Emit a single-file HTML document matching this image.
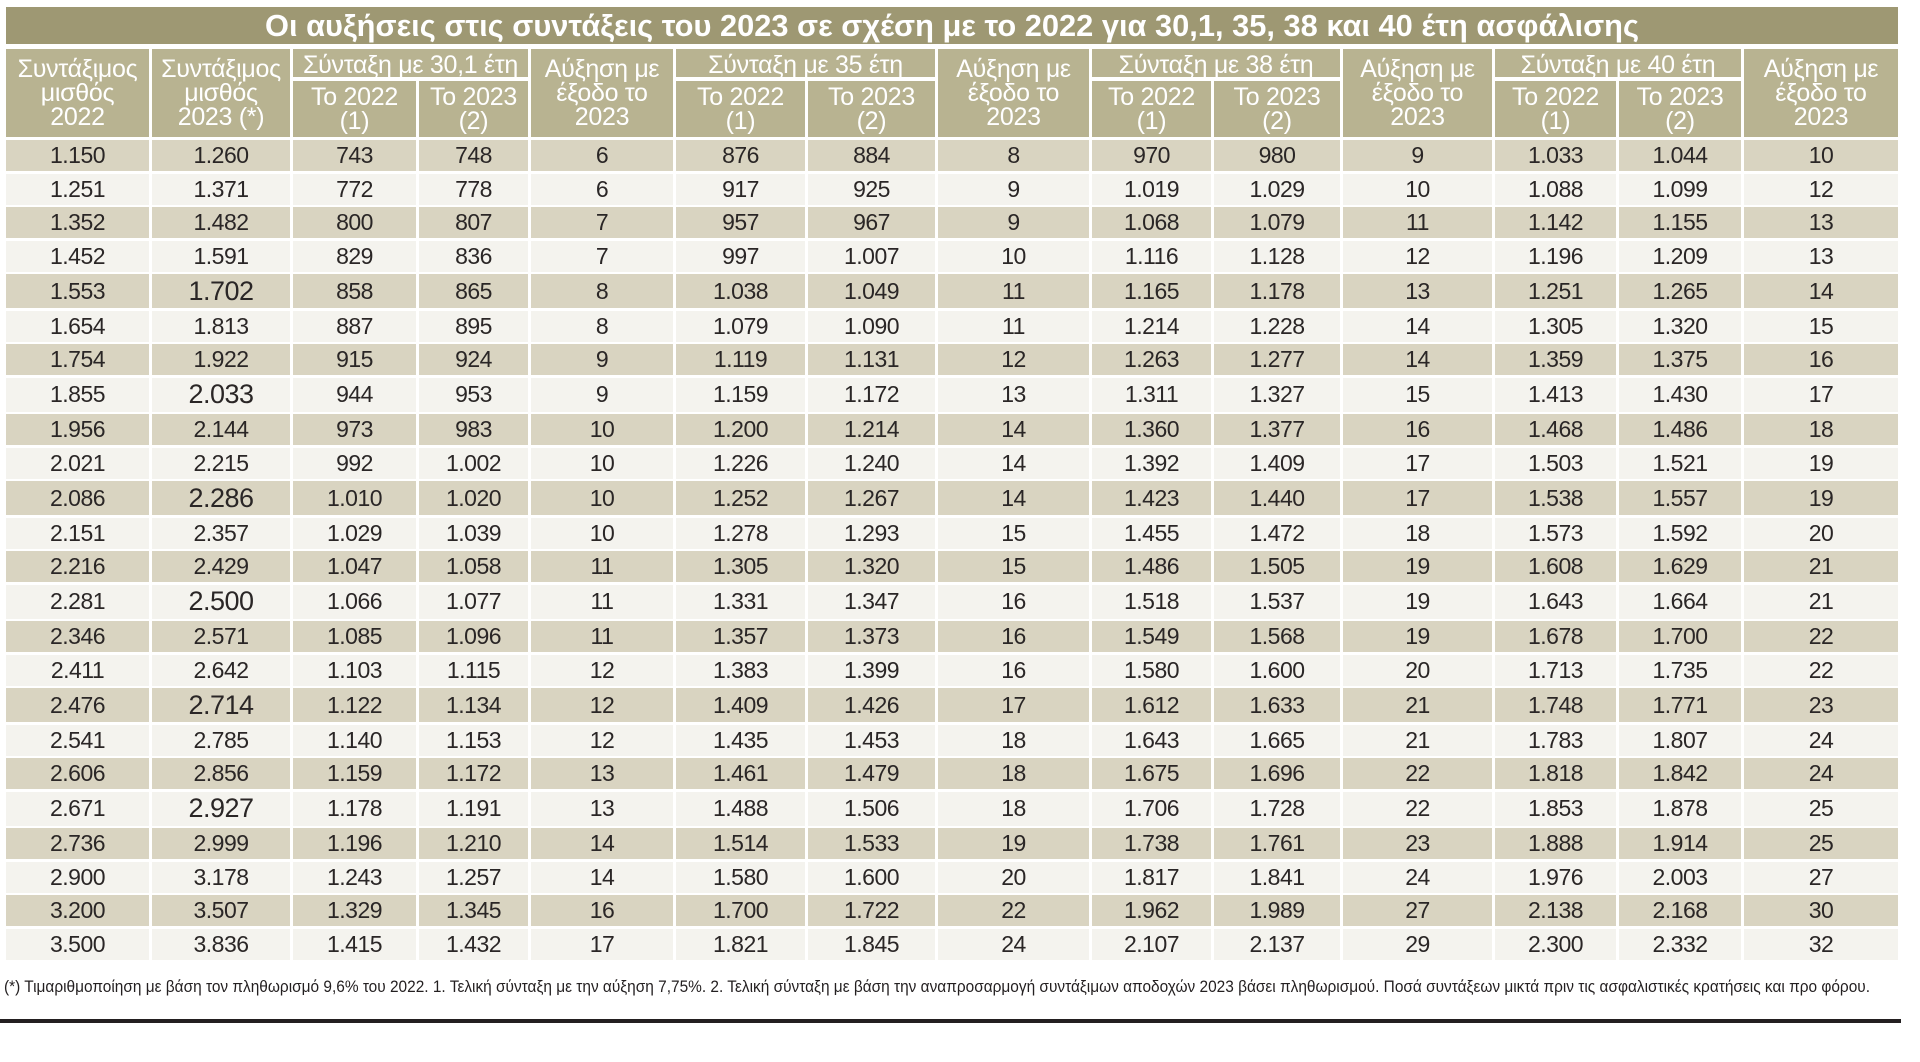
<!DOCTYPE html>
<html>
<head>
<meta charset="utf-8">
<style>
  html,body{margin:0;padding:0;background:#ffffff;}
  body{width:1920px;height:1062px;position:relative;overflow:hidden;font-family:"Liberation Sans","DejaVu Sans",sans-serif;}
  .title{position:absolute;left:6px;top:7px;width:1892px;height:37px;background:#9e9873;}
  .title svg{position:absolute;left:0;top:0;}
  .hdr{position:absolute;left:6px;top:49px;display:grid;
       grid-template-columns:143px 138px 123px 109px 142px 129px 127px 151px 119px 126px 149px 121px 122px 154px;
       grid-template-rows:28px 56px;column-gap:3px;row-gap:4px;}
  .hdr>div{background:#b8b391;color:#ffffff;font-size:25px;line-height:24px;display:flex;align-items:center;justify-content:center;text-align:center;letter-spacing:-0.3px;}
  .hdr>.s2{grid-row:span 2;}
  .hdr>.g{grid-column:span 2;padding-top:3px;box-sizing:border-box;}
  .body{position:absolute;left:6px;top:140px;}
  .r{display:grid;grid-template-columns:143px 138px 123px 109px 142px 129px 127px 151px 119px 126px 149px 121px 122px 154px;
     column-gap:3px;height:31px;margin-bottom:2.5px;}
  .r.b{height:34px;}
  .r>div{display:flex;align-items:center;justify-content:center;font-size:23px;color:#2a2626;letter-spacing:-0.5px;background:#f4f3ee;}
  .r.o>div{background:#d9d4c1;}
  .r.b>div:nth-child(2){font-size:27px;}
  .foot{position:absolute;left:0;top:970px;}
  .line{position:absolute;left:0;top:1019px;width:1901px;height:4px;background:#231f20;}
</style>
</head>
<body>
<div class="title">
  <svg width="1892" height="37" viewBox="0 0 1892 37">
    <text x="259" y="29" font-family="Liberation Sans, DejaVu Sans, sans-serif" font-weight="bold" font-size="31" fill="#ffffff" textLength="1374" lengthAdjust="spacingAndGlyphs">Οι αυξήσεις στις συντάξεις του 2023 σε σχέση με το 2022 για 30,1, 35, 38 και 40 έτη ασφάλισης</text>
  </svg>
</div>

<div class="hdr">
  <div class="s2">Συντάξιμος<br>μισθός<br>2022</div>
  <div class="s2">Συντάξιμος<br>μισθός<br>2023 (*)</div>
  <div class="g">Σύνταξη με 30,1 έτη</div>
  <div class="s2">Αύξηση με<br>έξοδο το<br>2023</div>
  <div class="g">Σύνταξη με 35 έτη</div>
  <div class="s2">Αύξηση με<br>έξοδο το<br>2023</div>
  <div class="g">Σύνταξη με 38 έτη</div>
  <div class="s2">Αύξηση με<br>έξοδο το<br>2023</div>
  <div class="g">Σύνταξη με 40 έτη</div>
  <div class="s2">Αύξηση με<br>έξοδο το<br>2023</div>
  <div>Το 2022<br>(1)</div>
  <div>Το 2023<br>(2)</div>
  <div>Το 2022<br>(1)</div>
  <div>Το 2023<br>(2)</div>
  <div>Το 2022<br>(1)</div>
  <div>Το 2023<br>(2)</div>
  <div>Το 2022<br>(1)</div>
  <div>Το 2023<br>(2)</div>
</div>

<div class="body">
<div class="r o"><div>1.150</div><div>1.260</div><div>743</div><div>748</div><div>6</div><div>876</div><div>884</div><div>8</div><div>970</div><div>980</div><div>9</div><div>1.033</div><div>1.044</div><div>10</div></div>
<div class="r"><div>1.251</div><div>1.371</div><div>772</div><div>778</div><div>6</div><div>917</div><div>925</div><div>9</div><div>1.019</div><div>1.029</div><div>10</div><div>1.088</div><div>1.099</div><div>12</div></div>
<div class="r o"><div>1.352</div><div>1.482</div><div>800</div><div>807</div><div>7</div><div>957</div><div>967</div><div>9</div><div>1.068</div><div>1.079</div><div>11</div><div>1.142</div><div>1.155</div><div>13</div></div>
<div class="r"><div>1.452</div><div>1.591</div><div>829</div><div>836</div><div>7</div><div>997</div><div>1.007</div><div>10</div><div>1.116</div><div>1.128</div><div>12</div><div>1.196</div><div>1.209</div><div>13</div></div>
<div class="r o b"><div>1.553</div><div>1.702</div><div>858</div><div>865</div><div>8</div><div>1.038</div><div>1.049</div><div>11</div><div>1.165</div><div>1.178</div><div>13</div><div>1.251</div><div>1.265</div><div>14</div></div>
<div class="r"><div>1.654</div><div>1.813</div><div>887</div><div>895</div><div>8</div><div>1.079</div><div>1.090</div><div>11</div><div>1.214</div><div>1.228</div><div>14</div><div>1.305</div><div>1.320</div><div>15</div></div>
<div class="r o"><div>1.754</div><div>1.922</div><div>915</div><div>924</div><div>9</div><div>1.119</div><div>1.131</div><div>12</div><div>1.263</div><div>1.277</div><div>14</div><div>1.359</div><div>1.375</div><div>16</div></div>
<div class="r b"><div>1.855</div><div>2.033</div><div>944</div><div>953</div><div>9</div><div>1.159</div><div>1.172</div><div>13</div><div>1.311</div><div>1.327</div><div>15</div><div>1.413</div><div>1.430</div><div>17</div></div>
<div class="r o"><div>1.956</div><div>2.144</div><div>973</div><div>983</div><div>10</div><div>1.200</div><div>1.214</div><div>14</div><div>1.360</div><div>1.377</div><div>16</div><div>1.468</div><div>1.486</div><div>18</div></div>
<div class="r"><div>2.021</div><div>2.215</div><div>992</div><div>1.002</div><div>10</div><div>1.226</div><div>1.240</div><div>14</div><div>1.392</div><div>1.409</div><div>17</div><div>1.503</div><div>1.521</div><div>19</div></div>
<div class="r o b"><div>2.086</div><div>2.286</div><div>1.010</div><div>1.020</div><div>10</div><div>1.252</div><div>1.267</div><div>14</div><div>1.423</div><div>1.440</div><div>17</div><div>1.538</div><div>1.557</div><div>19</div></div>
<div class="r"><div>2.151</div><div>2.357</div><div>1.029</div><div>1.039</div><div>10</div><div>1.278</div><div>1.293</div><div>15</div><div>1.455</div><div>1.472</div><div>18</div><div>1.573</div><div>1.592</div><div>20</div></div>
<div class="r o"><div>2.216</div><div>2.429</div><div>1.047</div><div>1.058</div><div>11</div><div>1.305</div><div>1.320</div><div>15</div><div>1.486</div><div>1.505</div><div>19</div><div>1.608</div><div>1.629</div><div>21</div></div>
<div class="r b"><div>2.281</div><div>2.500</div><div>1.066</div><div>1.077</div><div>11</div><div>1.331</div><div>1.347</div><div>16</div><div>1.518</div><div>1.537</div><div>19</div><div>1.643</div><div>1.664</div><div>21</div></div>
<div class="r o"><div>2.346</div><div>2.571</div><div>1.085</div><div>1.096</div><div>11</div><div>1.357</div><div>1.373</div><div>16</div><div>1.549</div><div>1.568</div><div>19</div><div>1.678</div><div>1.700</div><div>22</div></div>
<div class="r"><div>2.411</div><div>2.642</div><div>1.103</div><div>1.115</div><div>12</div><div>1.383</div><div>1.399</div><div>16</div><div>1.580</div><div>1.600</div><div>20</div><div>1.713</div><div>1.735</div><div>22</div></div>
<div class="r o b"><div>2.476</div><div>2.714</div><div>1.122</div><div>1.134</div><div>12</div><div>1.409</div><div>1.426</div><div>17</div><div>1.612</div><div>1.633</div><div>21</div><div>1.748</div><div>1.771</div><div>23</div></div>
<div class="r"><div>2.541</div><div>2.785</div><div>1.140</div><div>1.153</div><div>12</div><div>1.435</div><div>1.453</div><div>18</div><div>1.643</div><div>1.665</div><div>21</div><div>1.783</div><div>1.807</div><div>24</div></div>
<div class="r o"><div>2.606</div><div>2.856</div><div>1.159</div><div>1.172</div><div>13</div><div>1.461</div><div>1.479</div><div>18</div><div>1.675</div><div>1.696</div><div>22</div><div>1.818</div><div>1.842</div><div>24</div></div>
<div class="r b"><div>2.671</div><div>2.927</div><div>1.178</div><div>1.191</div><div>13</div><div>1.488</div><div>1.506</div><div>18</div><div>1.706</div><div>1.728</div><div>22</div><div>1.853</div><div>1.878</div><div>25</div></div>
<div class="r o"><div>2.736</div><div>2.999</div><div>1.196</div><div>1.210</div><div>14</div><div>1.514</div><div>1.533</div><div>19</div><div>1.738</div><div>1.761</div><div>23</div><div>1.888</div><div>1.914</div><div>25</div></div>
<div class="r"><div>2.900</div><div>3.178</div><div>1.243</div><div>1.257</div><div>14</div><div>1.580</div><div>1.600</div><div>20</div><div>1.817</div><div>1.841</div><div>24</div><div>1.976</div><div>2.003</div><div>27</div></div>
<div class="r o"><div>3.200</div><div>3.507</div><div>1.329</div><div>1.345</div><div>16</div><div>1.700</div><div>1.722</div><div>22</div><div>1.962</div><div>1.989</div><div>27</div><div>2.138</div><div>2.168</div><div>30</div></div>
<div class="r"><div>3.500</div><div>3.836</div><div>1.415</div><div>1.432</div><div>17</div><div>1.821</div><div>1.845</div><div>24</div><div>2.107</div><div>2.137</div><div>29</div><div>2.300</div><div>2.332</div><div>32</div></div>
</div>

<svg class="foot" width="1920" height="40" viewBox="0 0 1920 40">
  <text x="4" y="22" font-family="Liberation Sans, DejaVu Sans, sans-serif" font-size="17" fill="#231f20" textLength="1866" lengthAdjust="spacingAndGlyphs">(*) Τιμαριθμοποίηση με βάση τον πληθωρισμό 9,6% του 2022. 1. Τελική σύνταξη με την αύξηση 7,75%. 2. Τελική σύνταξη με βάση την αναπροσαρμογή συντάξιμων αποδοχών 2023 βάσει πληθωρισμού. Ποσά συντάξεων μικτά πριν τις ασφαλιστικές κρατήσεις και προ φόρου.</text>
</svg>

<div class="line"></div>
</body>
</html>
